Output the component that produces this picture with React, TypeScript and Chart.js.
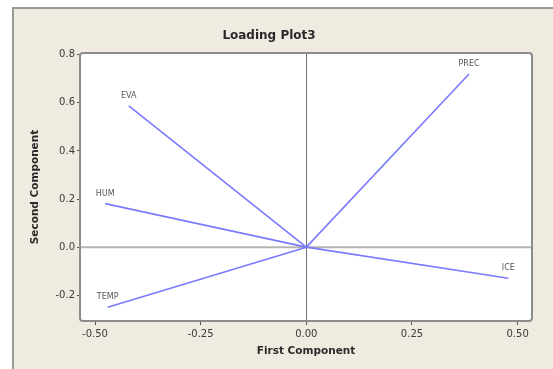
import React, { useEffect, useRef } from "react";
import { Chart, registerables } from "chart.js";

Chart.register(...registerables);

const variables = ["PREC", "EVA", "HUM", "TEMP", "ICE"];
const firstComponent = [0.385, -0.42, -0.476, -0.47, 0.478];
const secondComponent = [0.72, 0.587, 0.181, -0.25, -0.129];
const xTickValues = [-0.5, -0.25, 0, 0.25, 0.5];
const xTickLabels = ["-0.50", "-0.25", "0.00", "0.25", "0.50"];
const yTickValues = [-0.2, 0, 0.2, 0.4, 0.6, 0.8];
const yTickLabels = ["-0.2", "0.0", "0.2", "0.4", "0.6", "0.8"];
const chartTitle = "Loading Plot3";
const xTitle = "First Component";
const yTitle = "Second Component";

const W = 553;
const H = 369;
const FONT = "'DejaVu Sans', sans-serif";

const decorPlugin = {
  id: "decor",
  beforeDraw(chart: any) {
    const ctx = chart.ctx;
    const ca = chart.chartArea;
    ctx.save();
    ctx.fillStyle = "#ffffff";
    ctx.fillRect(0, 0, W, H);
    ctx.fillStyle = "#efebe1";
    ctx.fillRect(12, 7, W - 12, H - 7);
    ctx.strokeStyle = "#9a9a9a";
    ctx.lineWidth = 2;
    ctx.beginPath();
    ctx.moveTo(13, H);
    ctx.lineTo(13, 8);
    ctx.lineTo(W, 8);
    ctx.stroke();
    ctx.fillStyle = "#ffffff";
    ctx.fillRect(ca.left, ca.top, ca.right - ca.left, ca.bottom - ca.top);
    const xs = chart.scales.x;
    const ys = chart.scales.y;
    const y0 = ys.getPixelForValue(0);
    const x0 = xs.getPixelForValue(0);
    ctx.strokeStyle = "#b4b4b4";
    ctx.lineWidth = 2;
    ctx.beginPath();
    ctx.moveTo(ca.left, y0);
    ctx.lineTo(ca.right, y0);
    ctx.stroke();
    ctx.strokeStyle = "#707070";
    ctx.lineWidth = 1;
    ctx.beginPath();
    ctx.moveTo(Math.round(x0) + 0.5, ca.top);
    ctx.lineTo(Math.round(x0) + 0.5, ca.bottom);
    ctx.stroke();
    ctx.restore();
  },
  afterDatasetsDraw(chart: any) {
    const ctx = chart.ctx;
    const ca = chart.chartArea;
    const xs = chart.scales.x;
    const ys = chart.scales.y;
    ctx.save();
    ctx.strokeStyle = "#8c8c8c";
    ctx.lineWidth = 2;
    ctx.beginPath();
    if (ctx.roundRect) {
      ctx.roundRect(ca.left, ca.top, ca.right - ca.left, ca.bottom - ca.top, 3);
    } else {
      ctx.rect(ca.left, ca.top, ca.right - ca.left, ca.bottom - ca.top);
    }
    ctx.stroke();
    ctx.fillStyle = "#555555";
    ctx.font = "8px " + FONT;
    ctx.textAlign = "center";
    ctx.textBaseline = "middle";
    variables.forEach((name, i) => {
      const px = xs.getPixelForValue(firstComponent[i]);
      const py = ys.getPixelForValue(secondComponent[i]);
      ctx.fillText(name, px, py - 10);
    });
    ctx.fillStyle = "#2a2a2a";
    ctx.font = "bold 12px " + FONT;
    ctx.fillText(chartTitle, 269, 36);
    ctx.font = "bold 10.5px " + FONT;
    ctx.fillText(xTitle, (ca.left + ca.right) / 2, 351);
    ctx.translate(35, (ca.top + ca.bottom) / 2);
    ctx.rotate(-Math.PI / 2);
    ctx.fillText(yTitle, 0, 0);
    ctx.restore();
  },
};

export default function App() {
  const ref = useRef<HTMLCanvasElement | null>(null);

  useEffect(() => {
    if (!ref.current) return;
    const datasets = variables.map((name, i) => ({
      label: name,
      data: [
        { x: 0, y: 0 },
        { x: firstComponent[i], y: secondComponent[i] },
      ],
      showLine: true,
      borderColor: "#7a7aff",
      backgroundColor: "#7a7aff",
      borderWidth: 1.6,
      pointRadius: 0,
    }));
    const chart = new Chart(ref.current, {
      type: "scatter",
      data: { datasets },
      plugins: [decorPlugin],
      options: {
        responsive: false,
        animation: false,
        layout: { padding: { left: 0, right: 21, top: 53, bottom: 0 } },
        plugins: {
          legend: { display: false },
          tooltip: { enabled: false },
          title: { display: false },
        },
        scales: {
          x: {
            type: "linear",
            min: -0.5355,
            max: 0.534,
            afterBuildTicks: (s: any) => {
              s.ticks = xTickValues.map((v) => ({ value: v }));
            },
            afterFit: (s: any) => {
              s.height = 48;
            },
            ticks: {
              autoSkip: false,
              maxRotation: 0,
              color: "#3a3a3a",
              font: { family: FONT, size: 10 },
              padding: 3,
              callback: (v: any) => {
                const idx = xTickValues.findIndex((t) => Math.abs(t - v) < 1e-6);
                return idx >= 0 ? xTickLabels[idx] : "";
              },
            },
            grid: { drawOnChartArea: false, drawTicks: true, tickLength: 4, color: "#555555" },
            border: { display: false },
          },
          y: {
            type: "linear",
            min: -0.307,
            max: 0.807,
            afterBuildTicks: (s: any) => {
              s.ticks = yTickValues.map((v) => ({ value: v }));
            },
            afterFit: (s: any) => {
              s.width = 80;
            },
            ticks: {
              autoSkip: false,
              color: "#3a3a3a",
              font: { family: FONT, size: 10 },
              padding: 2,
              callback: (v: any) => {
                const idx = yTickValues.findIndex((t) => Math.abs(t - v) < 1e-6);
                return idx >= 0 ? yTickLabels[idx] : "";
              },
            },
            grid: { drawOnChartArea: false, drawTicks: true, tickLength: 3, color: "#555555" },
            border: { display: false },
          },
        },
      },
    } as any);
    return () => chart.destroy();
  }, []);

  return (
    <div style={{ position: "fixed", left: 0, top: 0, width: W, height: H }}>
      <canvas ref={ref} width={W} height={H} style={{ width: W, height: H, display: "block" }} />
    </div>
  );
}
